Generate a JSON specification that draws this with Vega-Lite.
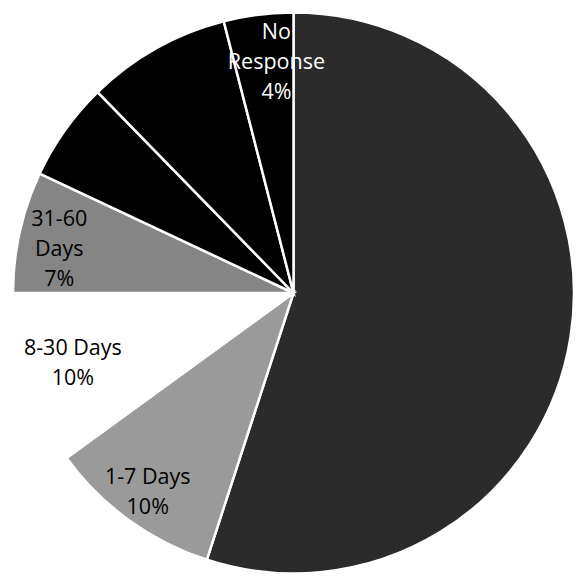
{
  "$schema": "https://vega.github.io/schema/vega-lite/v6.json",
  "width": 579,
  "height": 586,
  "autosize": {"type": "fit", "contains": "padding"},
  "padding": {"left": 8, "right": 0, "top": 4, "bottom": 4},
  "background": "white",
  "view": {"stroke": null},
  "data": {
    "values": [
      {"category": "Unlabeled A", "rank": 1, "pct": 55, "label": ""},
      {"category": "1-7 Days", "rank": 2, "pct": 10, "label": "1-7 Days\n10%"},
      {"category": "8-30 Days", "rank": 3, "pct": 10, "label": "8-30 Days\n10%"},
      {"category": "31-60 Days", "rank": 4, "pct": 7, "label": "31-60\nDays\n7%"},
      {"category": "Unlabeled B", "rank": 5, "pct": 5.7, "label": ""},
      {"category": "Unlabeled C", "rank": 6, "pct": 8.3, "label": ""},
      {"category": "No Response", "rank": 7, "pct": 4, "label": "No\nResponse\n4%"}
    ]
  },
  "encoding": {
    "theta": {"field": "pct", "type": "quantitative", "stack": true},
    "order": {"field": "rank", "type": "quantitative"}
  },
  "layer": [
    {
      "mark": {"type": "arc", "stroke": "white", "strokeWidth": 2.5},
      "encoding": {
        "color": {
          "field": "category",
          "type": "nominal",
          "scale": {
            "domain": ["Unlabeled A", "1-7 Days", "8-30 Days", "31-60 Days", "Unlabeled B", "Unlabeled C", "No Response"],
            "range": ["#2b2b2b", "#9a9a9a", "#ffffff", "#858585", "#000000", "#000000", "#000000"]
          },
          "legend": null
        }
      }
    },
    {
      "mark": {"type": "text", "radius": 248, "dy": -15.5, "lineBreak": "\n", "font": "Open Sans", "fontSize": 21.5, "lineHeight": 30, "align": "center", "baseline": "middle", "color": "black"},
      "encoding": {
        "text": {"condition": {"test": "datum.category === '1-7 Days'", "field": "label"}, "value": ""}
      }
    },
    {
      "mark": {"type": "text", "radius": 232, "dy": -15.5, "lineBreak": "\n", "font": "Open Sans", "fontSize": 21.5, "lineHeight": 30, "align": "center", "baseline": "middle", "color": "black"},
      "encoding": {
        "text": {"condition": {"test": "datum.category === '8-30 Days'", "field": "label"}, "value": ""}
      }
    },
    {
      "mark": {"type": "text", "radius": 240, "dy": -21, "lineBreak": "\n", "font": "Open Sans", "fontSize": 21.5, "lineHeight": 30, "align": "center", "baseline": "middle", "color": "black"},
      "encoding": {
        "text": {"condition": {"test": "datum.category === '31-60 Days'", "field": "label"}, "value": ""}
      }
    },
    {
      "mark": {"type": "text", "radius": 232, "dx": 12, "dy": -30, "lineBreak": "\n", "font": "Open Sans", "fontSize": 21.5, "lineHeight": 30, "align": "center", "baseline": "middle", "color": "white"},
      "encoding": {
        "text": {"condition": {"test": "datum.category === 'No Response'", "field": "label"}, "value": ""}
      }
    }
  ]
}
